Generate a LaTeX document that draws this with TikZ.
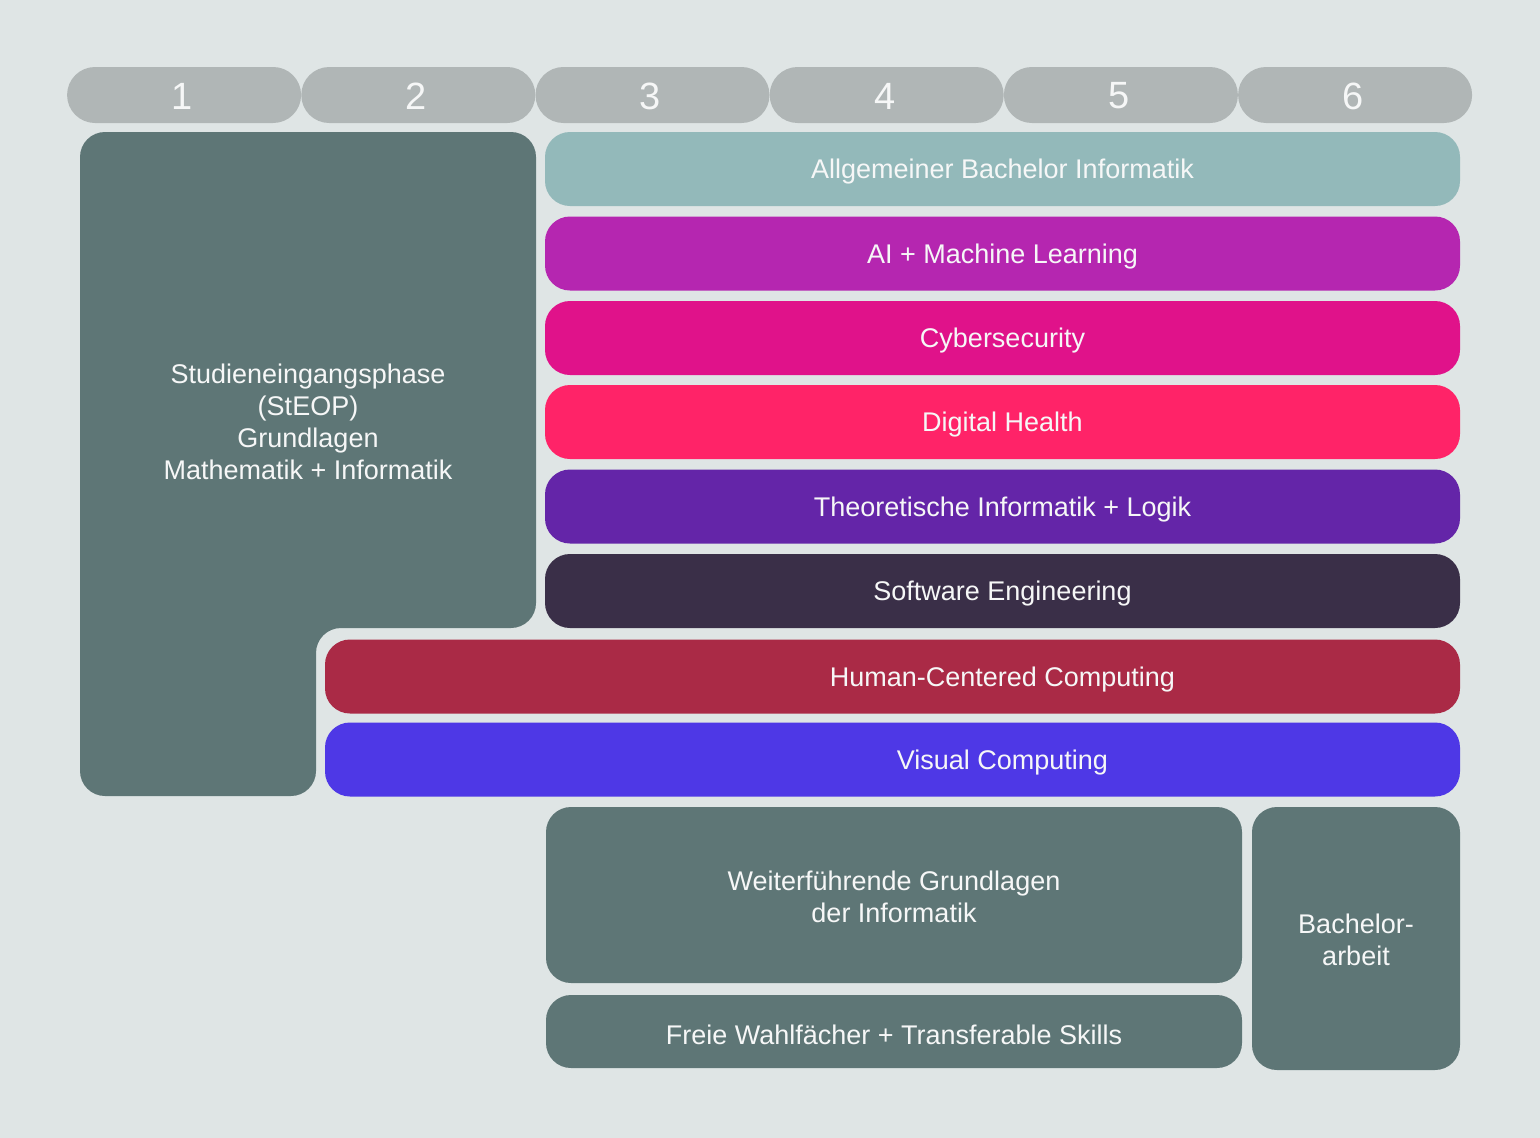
\documentclass[tikz,border=0pt]{standalone}
\usepackage{fontspec}
\setmainfont{Liberation Sans}
\definecolor{bg}{HTML}{DFE5E5}
\definecolor{pill}{HTML}{B0B6B6}
\definecolor{slate}{HTML}{5E7676}
\definecolor{cAll}{HTML}{93B9BA}
\definecolor{cAI}{HTML}{B526B0}
\definecolor{cCyb}{HTML}{E0128A}
\definecolor{cDig}{HTML}{FF2368}
\definecolor{cThe}{HTML}{6425A8}
\definecolor{cSoft}{HTML}{3A2F48}
\definecolor{cHum}{HTML}{AA2A46}
\definecolor{cVis}{HTML}{4E38E6}
\definecolor{txt}{HTML}{F6F7F7}
\begin{document}
\begin{tikzpicture}[x=1pt,y=-1pt,
  box/.style={rounded corners=25pt, inner sep=0pt, outer sep=0pt},
  row/.style={box, minimum width=915pt, minimum height=74pt},
  wide/.style={box, minimum width=1135pt, minimum height=74pt},
  lbl/.style={inner sep=0pt, text=txt, align=center,
    font=\fontsize{27}{32}\selectfont},
  sem/.style={rounded corners=27.9pt, inner sep=0pt, outer sep=0pt, fill=pill,
    minimum width=234pt, minimum height=56pt},
  semlbl/.style={inner sep=0pt, text=txt, font=\fontsize{38}{40}\selectfont}]
\fill[bg] (0,0) rectangle (1540,1138);
\useasboundingbox (0,0) rectangle (1540,1138);
% semester pills
\foreach \i in {1,...,6}{
  \node[sem] (s\i) at ({67+117.1+(\i-1)*234.2},95) {};
  \node[semlbl] (s\i T) at ({67+117.1+(\i-1)*234.2-2},96) {\i};
}
% L-shaped entry phase
\fill[slate, rounded corners=25pt] (80,132) -- (536,132) -- (536,628) -- (316,628)
  -- (316,796) -- (80,796) -- cycle;
\node[lbl] (steop) at (308,421.5) {Studieneingangsphase\\(StEOP)\\Grundlagen\\Mathematik + Informatik};
% specialisation rows
\node[row, fill=cAll] (allg) at (1002.5,169) {};
\node[row, fill=cAI] (ai) at (1002.5,253.5) {};
\node[row, fill=cCyb] (cyb) at (1002.5,338) {};
\node[row, fill=cDig] (dig) at (1002.5,422) {};
\node[row, fill=cThe] (the) at (1002.5,506.5) {};
\node[row, fill=cSoft] (soft) at (1002.5,591) {};
\node[wide, fill=cHum] (hum) at (892.5,676.5) {};
\node[wide, fill=cVis] (vis) at (892.5,759.5) {};
\node[lbl] (allgT) at (1002.5,172) {Allgemeiner Bachelor Informatik};
\node[lbl] (aiT) at (1002.5,256.5) {AI + Machine Learning};
\node[lbl] (cybT) at (1002.5,341) {Cybersecurity};
\node[lbl] (digT) at (1002.5,425) {Digital Health};
\node[lbl] (theT) at (1002.5,509.5) {Theoretische Informatik + Logik};
\node[lbl] (softT) at (1002.5,594) {Software Engineering};
\node[lbl] (humT) at (1002.5,679.5) {Human-Centered Computing};
\node[lbl] (visT) at (1002.5,762.5) {Visual Computing};
% lower blocks
\node[box, fill=slate, minimum width=696pt, minimum height=176pt] (weiter) at (894,895) {};
\node[box, fill=slate, minimum width=696pt, minimum height=73pt] (frei) at (894,1031.5) {};
\node[box, fill=slate, minimum width=208pt, minimum height=263pt] (ba) at (1356,938.5) {};
\node[lbl] (weiterT) at (894,897) {Weiterführende Grundlagen\\der Informatik};
\node[lbl] (freiT) at (894,1034.5) {Freie Wahlfächer + Transferable Skills};
\node[lbl] (baT) at (1356,940) {Bachelor-\\arbeit};
\end{tikzpicture}
\end{document}
